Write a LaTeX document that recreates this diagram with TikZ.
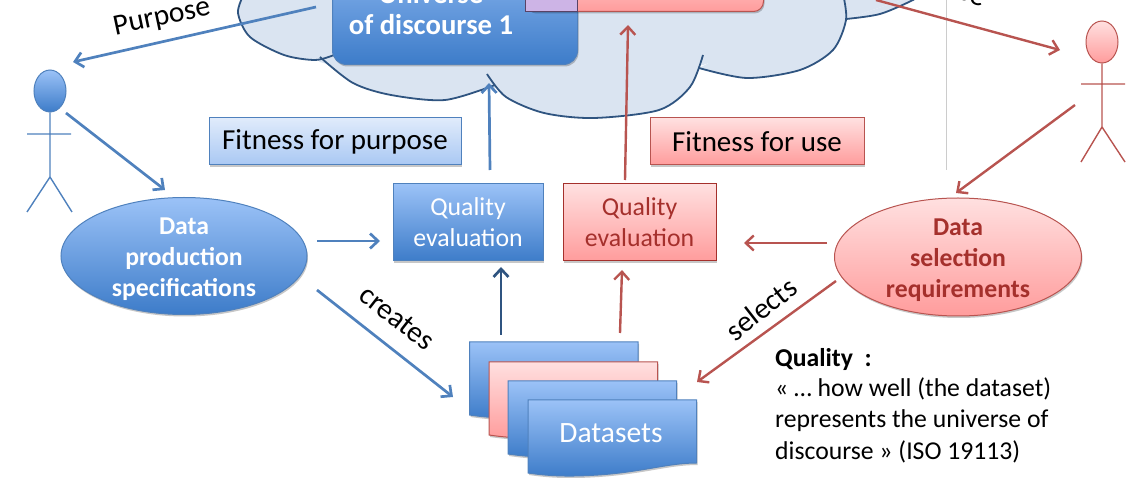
\documentclass[tikz,border=0pt]{standalone}
\usepackage{fontspec}
\setmainfont{Carlito}
\usetikzlibrary{shapes.geometric,arrows.meta,shadows,calc}
\definecolor{bluetop}{HTML}{9BC2F7}
\definecolor{bluebot}{HTML}{3D7CC9}
\definecolor{redtop}{HTML}{FFE0E0}
\definecolor{redbot}{HTML}{FF9C9C}
\definecolor{paletop}{HTML}{E0EBFB}
\definecolor{palebot}{HTML}{A9C8F3}
\definecolor{blueline}{HTML}{4F81BD}
\definecolor{darkblue}{HTML}{2F5480}
\definecolor{redline}{HTML}{B85450}
\definecolor{darkred}{HTML}{A5302C}
\definecolor{cloudfill}{HTML}{DAE4F1}
\tikzset{
  x=1pt,y=-1pt,
  softshadow/.style={drop shadow={shadow xshift=1pt,shadow yshift=-2pt,opacity=0.22,fill=black}},
  bluefill/.style={top color=bluetop,bottom color=bluebot,draw=blueline,line width=1pt},
  redfill/.style={top color=redtop,bottom color=redbot,draw=redline,line width=1pt},
  palefill/.style={top color=paletop,bottom color=palebot,draw=blueline,line width=1pt},
  bluearrow/.style={draw=blueline,line width=2.7pt,-{Straight Barb[length=8pt,width=15pt]}},
  redarrow/.style={draw=redline,line width=2.4pt,-{Straight Barb[length=8pt,width=15pt]}},
  cloudline/.style={draw=darkblue,line width=1.8pt},
  figblue/.style={draw=blueline,line width=1.4pt},
  figred/.style={draw=redline,line width=1.4pt},
  boxtext/.style={inner sep=0pt,font=\fontsize{29}{34}\selectfont,text=black},
  evaltext/.style={align=center,font=\fontsize{25.8}{31}\selectfont},
  elltext/.style={align=center,inner sep=0pt,font=\bfseries\fontsize{25.7}{31}\selectfont},
  labeltext/.style={inner sep=0pt,font=\fontsize{29.5}{34}\selectfont,text=black},
  notetext/.style={inner sep=0pt,font=\fontsize{25.7}{31}\selectfont,text=black,anchor=base west},
}
\newcommand{\datasheet}[3]{%
  \path[#1,softshadow,shift={(#2,#3)}] (0,0) -- (168.5,0) -- (168.5,63)
    .. controls (140,63) and (115,72) .. (70,75)
    .. controls (40,77) and (20,76) .. (0,73) -- cycle;}
\begin{document}
\begin{tikzpicture}
\useasboundingbox (0,0) rectangle (1136,478);
\clip (0,0) rectangle (1136,478);
% thin grey line
\coordinate (gtop) at (946,-2);
\coordinate (gbot) at (946,170);
\draw[gray!40,line width=0.8pt] (gtop) -- (gbot);
% cloud fill
\fill[cloudfill] plot[smooth] coordinates {(244,-6) (238,13) (250,37) (284,55) (315,60) (334,55)} -- cycle;
\fill[cloudfill] plot[smooth] coordinates {(320,57) (353,83) (391,95) (445,100) (495,85)} -- cycle;
\fill[cloudfill] plot[smooth] coordinates {(487,74) (506,97) (544,113) (594,118) (659,110) (690,87) (703,55)} -- cycle;
\fill[cloudfill] plot[smooth] coordinates {(699,68) (747,78) (800,70) (833,50) (846,20) (843,-6)} -- cycle;
\fill[cloudfill] plot[smooth] coordinates {(846,19) (880,14) (913,0) (920,-6)} -- cycle;
\fill[cloudfill] (244,-6) -- (320,62) -- (400,85) -- (495,88) -- (703,65) -- (846,19) -- (920,-6) -- cycle;
% cloud outline
\draw[cloudline] plot[smooth] coordinates {(244,-6) (238,13) (250,37) (284,55) (315,60) (334,55)};
\draw[cloudline] plot[smooth] coordinates {(320,57) (353,83) (391,95) (445,100) (495,85)};
\draw[cloudline] plot[smooth] coordinates {(487,74) (506,97) (544,113) (594,118) (659,110) (690,87) (703,55)};
\draw[cloudline] plot[smooth] coordinates {(699,68) (747,78) (800,70) (833,50) (846,20) (843,-6)};
\draw[cloudline] plot[smooth] coordinates {(846,19) (880,14) (913,0) (920,-6)};
% universe boxes
\node[bluefill,softshadow,rounded corners=14pt,minimum width=245pt,minimum height=130pt,inner sep=0pt,anchor=south west] (u1) at (332,65) {};
\node[text=white,align=center,font=\bfseries\fontsize{28.7}{31}\selectfont,inner sep=0pt,anchor=base] (u1t) at (431,35) {Universe\\of discourse 1};
\node[redfill,softshadow,rounded corners=10pt,minimum width=238pt,minimum height=60pt,inner sep=0pt,anchor=south west] (u2) at (525,12) {};
\fill[fill={rgb,255:red,205;green,180;blue,230}] (525,-5) rectangle (577,12);
\draw[draw=darkblue!80!red,line width=1pt] (525,-5) -- (525,12) -- (577,12) -- (577,-5);
% Fitness boxes
\node[palefill,softshadow,minimum width=252pt,minimum height=47pt,boxtext] (ffp) at (335,141.5) {Fitness for purpose};
\node[redfill,softshadow,minimum width=214pt,minimum height=47pt,boxtext] (ffu) at (757,141.5) {Fitness for use};
% Quality evaluation
\node[bluefill,softshadow,minimum width=150pt,minimum height=77pt,text=white,evaltext,inner sep=0pt] (qb) at (468,222.5) {Quality\\evaluation};
\node[redfill,softshadow,draw=darkred,minimum width=153pt,minimum height=77pt,text=darkred,evaltext,inner sep=0pt] (qr) at (639.5,222.5) {Quality\\evaluation};
% ellipses
\node[ellipse,bluefill,softshadow,minimum width=246pt,minimum height=117pt,inner sep=0pt] (dp) at (184,256) {};
\node[text=white,elltext] (dpt) at (184,259) {Data\\production\\specifications};
\node[ellipse,redfill,softshadow,minimum width=247pt,minimum height=118pt,inner sep=0pt] (ds) at (958,257) {};
\node[text=darkred,elltext] (dst) at (958,260) {Data\\selection\\requirements};
% datasets
\datasheet{bluefill}{469.5}{342}
\datasheet{redfill}{489}{362}
\datasheet{bluefill}{508}{381}
\datasheet{bluefill}{528}{400}
\node[text=white,inner sep=0pt,font=\fontsize{29.5}{34}\selectfont] (dsets) at (611,433) {Datasets};
% stick figures
\node[ellipse,bluefill,minimum width=32pt,minimum height=42pt,inner sep=0pt] (hl) at (50,91) {};
\coordinate (lhip) at (50,177);
\coordinate (larml) at (27,134);
\coordinate (larmr) at (71,134);
\coordinate (llegl) at (27,212);
\coordinate (llegr) at (72,212);
\draw[figblue] (hl.south) -- (lhip) (larml) -- (larmr) (llegl) -- (lhip) -- (llegr);
\node[ellipse,redfill,minimum width=32pt,minimum height=42pt,inner sep=0pt] (hr) at (1102,42) {};
\coordinate (rhip) at (1102,127);
\coordinate (rarml) at (1081,84);
\coordinate (rarmr) at (1125,84);
\coordinate (rlegl) at (1081,162);
\coordinate (rlegr) at (1125,162);
\draw[figred] (hr.south) -- (rhip) (rarml) -- (rarmr) (rlegl) -- (rhip) -- (rlegr);
% arrow end points
\coordinate (a1s) at (316,7);   \coordinate (a1e) at (73,62);
\coordinate (a2s) at (66,113);  \coordinate (a2e) at (165,190);
\coordinate (a3s) at (317,241); \coordinate (a3e) at (380,241);
\coordinate (a4s) at (317,290); \coordinate (a4e) at (453,397);
\coordinate (a5s) at (501,335); \coordinate (a5e) at (501,267);
\coordinate (a6s) at (490,170); \coordinate (a6e) at (489,83);
\coordinate (b1s) at (876,0);   \coordinate (b1e) at (1060,50);
\coordinate (b2s) at (1075,105);\coordinate (b2e) at (956,193);
\coordinate (b3s) at (827,243); \coordinate (b3e) at (744,243);
\coordinate (b4s) at (836,281); \coordinate (b4e) at (697,382);
\coordinate (b5s) at (620,333); \coordinate (b5e) at (622,270);
\coordinate (b6s) at (625,180); \coordinate (b6e) at (628,25);
\draw[bluearrow] (a1s) -- (a1e);
\draw[bluearrow] (a2s) -- (a2e);
\draw[bluearrow] (a3s) -- (a3e);
\draw[bluearrow] (a4s) -- (a4e);
\draw[bluearrow,draw=darkblue] (a5s) -- (a5e);
\draw[bluearrow] (a6s) -- (a6e);
\draw[redarrow] (b1s) -- (b1e);
\draw[redarrow] (b2s) -- (b2e);
\draw[redarrow] (b3s) -- (b3e);
\draw[redarrow] (b4s) -- (b4e);
\draw[redarrow] (b5s) -- (b5e);
\draw[redarrow] (b6s) -- (b6e);
% labels
\node[labeltext,rotate=12] (lp) at (162,18) {Purpose};
\node[labeltext,rotate=-19] (lu) at (964,-9) {Use};
\node[labeltext,rotate=-38] (lc) at (397,318) {creates};
\node[labeltext,rotate=38] (ls) at (761,309) {selects};
% note
\node[notetext,font=\bfseries\fontsize{25.7}{31}\selectfont] (n0) at (775,367) {Quality\ \ :};
\node[notetext] (n1) at (775,397) {« … how well (the dataset)};
\node[notetext] (n2) at (775,428) {represents the universe of};
\node[notetext] (n3) at (775,459) {discourse » (ISO 19113)};
\end{tikzpicture}
\end{document}
